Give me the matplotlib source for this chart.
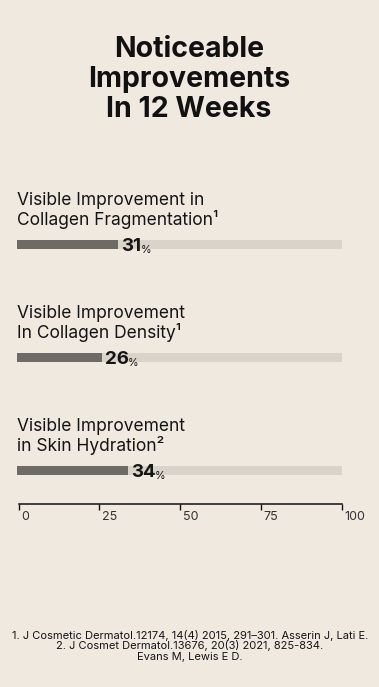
import matplotlib
matplotlib.use("Agg")
import matplotlib.pyplot as plt
from matplotlib.transforms import ScaledTranslation

# ---- data ----
title_lines = ["Noticeable", "Improvements", "In 12 Weeks"]
label_line1 = ["Visible Improvement in", "Visible Improvement", "Visible Improvement"]
label_line2 = ["Collagen Fragmentation\u00b9", "In Collagen Density\u00b9", "in Skin Hydration\u00b2"]
values = [31, 26, 34]
scale_max = 100
tick_values = [0, 25, 50, 75, 100]
tick_labels = ["0", "25", "50", "75", "100"]
footnotes = [
    "1. J Cosmetic Dermatol.12174, 14(4) 2015, 291\u2013301. Asserin J, Lati E.",
    "2. J Cosmet Dermatol.13676, 20(3) 2021, 825-834.",
    "Evans M, Lewis E D.",
]

# ---- style ----
BG = "#EFE9DF"
DARK = "#6E6A64"
LIGHT = "#D9D3C9"
TXT = "#151515"
FAM = ["Inter", "DejaVu Sans"]
plt.rcParams["font.family"] = FAM

W, H = 379, 687
fig = plt.figure(figsize=(W / 100, H / 100), dpi=100)
fig.patch.set_facecolor(BG)

def fy(px):
    return 1 - px / H

# title
for i, line in enumerate(title_lines):
    fig.text(189 / W, fy(56.7 + 30 * i), line, ha="center", va="baseline",
             fontsize=20.5, fontweight="bold", color="#111111")

# main bar axes
ax = fig.add_axes([17 / W, fy(527), 325 / W, 339 / H])
ax.set_facecolor("none")
ax.set_xlim(0, scale_max)
ax.set_ylim(2.5, -0.5)
ax.axis("off")
pos = list(range(len(values)))
ax.barh(pos, [scale_max] * len(values), height=0.075, color=LIGHT, left=0)
ax.barh(pos, values, height=0.075, color=DARK, left=0)

for p, l1, l2, v in zip(pos, label_line1, label_line2, values):
    ax.annotate(l2, xy=(0, p), xytext=(0, 13.7), textcoords="offset points",
                ha="left", va="baseline", fontsize=12.5, color=TXT)
    ax.annotate(l1, xy=(0, p), xytext=(0, 28.1), textcoords="offset points",
                ha="left", va="baseline", fontsize=12.5, color=TXT)
    t = ax.annotate(f"{v}", xy=(v, p), xytext=(2.5, -4.5), textcoords="offset points",
                    ha="left", va="baseline", fontsize=13.5, fontweight="bold", color=TXT)
    ax.annotate("%", xy=(1, 0), xycoords=t, xytext=(-0.6, 0), textcoords="offset points",
                ha="left", va="bottom", fontsize=7.8, color=TXT)

# scale axis
sax = fig.add_axes([18.5 / W, fy(504.3), (342.3 - 18.5) / W, 0.01])
sax.set_facecolor("none")
sax.set_xlim(0, scale_max)
sax.set_yticks([])
for s in ["top", "left", "right"]:
    sax.spines[s].set_visible(False)
sax.spines["bottom"].set_linewidth(1.1)
sax.spines["bottom"].set_color("#111111")
sax.set_xticks(tick_values)
sax.set_xticklabels(tick_labels)
sax.tick_params(axis="x", direction="out", length=4.3, width=1.0, color="#111111",
                pad=0.3, labelsize=9, labelcolor="#333333")
off = ScaledTranslation(0.025, 0, fig.dpi_scale_trans)
for lab in sax.get_xticklabels():
    lab.set_ha("left")
    lab.set_transform(lab.get_transform() + off)

# footnotes
for i, line in enumerate(footnotes):
    fig.text(190 / W, fy(638.7 + 10.7 * i), line, ha="center", va="baseline",
             fontsize=8.0, color=TXT)

fig.savefig("out.png", dpi=100, facecolor=BG)
